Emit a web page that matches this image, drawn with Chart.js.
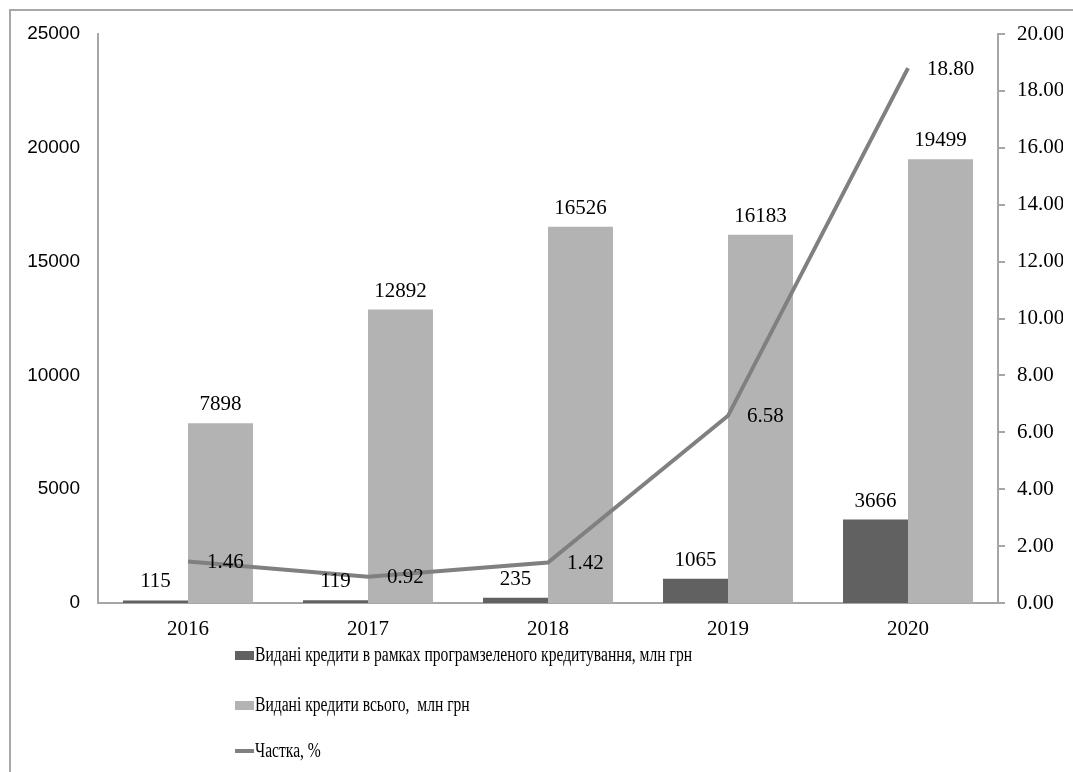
<!DOCTYPE html>
<html>
<head>
<meta charset="utf-8">
<script src="https://cdn.jsdelivr.net/npm/chart.js@4/dist/chart.umd.min.js"></script>
<style>
  html, body { margin: 0; padding: 0; background: #fff; }
  #wrap { position: relative; width: 1073px; height: 772px; overflow: hidden; }
  #frame { position: absolute; left: 9px; top: 9px; width: 1100px; height: 800px;
           border-left: 2px solid #a8a8a8; border-top: 2px solid #a8a8a8; }
  canvas { position: absolute; left: 0; top: 0; }
  #legend { position: absolute; left: 235px; top: 640px; font-family: "Liberation Serif", serif;
            font-size: 20px; color: #000; }
  .item { position: absolute; left: 0; white-space: pre; height: 24px; }
  .item .sw { position: absolute; left: 0; }
  .item .tx { position: absolute; left: 20px; top: 0; transform-origin: 0 50%; transform: scaleX(0.78); }
</style>
</head>
<body>
<div id="wrap">
  <div id="frame"></div>
  <canvas id="chart" width="1073" height="772"></canvas>
  <div id="legend"></div>
</div>
<script>
const years = ["2016", "2017", "2018", "2019", "2020"];
const greenLoans = [115, 119, 235, 1065, 3666];
const totalLoans = [7898, 12892, 16526, 16183, 19499];
const sharePct = [1.46, 0.92, 1.42, 6.58, 18.80];
const leftTicks = [0, 5000, 10000, 15000, 20000, 25000];
const rightTicks = [0, 2, 4, 6, 8, 10, 12, 14, 16, 18, 20];

const seriesNames = [
  "Видані кредити в рамках програмзеленого кредитування, млн грн",
  "Видані кредити всього,  млн грн",
  "Частка, %"
];

const darkGrey = "#616161";
const lightGrey = "#b3b3b3";
const lineGrey = "#808080";
const axisGrey = "#a6a6a6";
const serif = "'Liberation Serif', 'Times New Roman', serif";

// value labels over bars and next to the line points
const valueLabels = {
  id: "valueLabels",
  afterDatasetsDraw(chart) {
    const ctx = chart.ctx;
    ctx.save();
    ctx.font = "21px " + serif;
    ctx.fillStyle = "#000";
    chart.data.datasets.forEach((ds, i) => {
      const meta = chart.getDatasetMeta(i);
      meta.data.forEach((el, j) => {
        const v = ds.data[j];
        if (ds.type === "line") {
          ctx.textAlign = "left";
          ctx.textBaseline = "middle";
          ctx.fillText(v.toFixed(2), el.x + 19, el.y + 1);
        } else {
          ctx.textAlign = "center";
          ctx.textBaseline = "bottom";
          ctx.fillText(String(v), el.x, el.y - 8);
        }
      });
    });
    ctx.restore();
  }
};

const chart = new Chart(document.getElementById("chart"), {
  data: {
    labels: years,
    datasets: [
      {
        type: "line",
        label: seriesNames[2],
        data: sharePct,
        yAxisID: "y1",
        borderColor: lineGrey,
        borderWidth: 4,
        pointRadius: 0,
        tension: 0,
        order: -1
      },
      {
        type: "bar",
        label: seriesNames[0],
        data: greenLoans,
        yAxisID: "y",
        backgroundColor: darkGrey,
        categoryPercentage: 0.722,
        barPercentage: 1
      },
      {
        type: "bar",
        label: seriesNames[1],
        data: totalLoans,
        yAxisID: "y",
        backgroundColor: lightGrey,
        categoryPercentage: 0.722,
        barPercentage: 1
      }
    ]
  },
  options: {
    responsive: false,
    animation: false,
    layout: { padding: { left: 10, right: 10, top: 34, bottom: 100 } },
    plugins: { legend: { display: false }, tooltip: { enabled: false } },
    scales: {
      x: {
        grid: { display: false, drawTicks: false },
        border: { display: true, color: axisGrey, width: 2 },
        ticks: { color: "#000", font: { family: serif, size: 21 }, padding: 14 },
        afterFit: s => { s.height = 69; }
      },
      y: {
        position: "left",
        min: 0,
        max: 25000,
        afterBuildTicks: s => { s.ticks = leftTicks.map(v => ({ value: v })); },
        grid: { display: false, drawTicks: false },
        border: { display: true, color: axisGrey, width: 2 },
        ticks: { color: "#000", font: { family: "'Liberation Sans', Arial, sans-serif", size: 19 }, padding: 18,
                 callback: v => String(v) },
        afterFit: s => { s.width = 88; }
      },
      y1: {
        position: "right",
        min: 0,
        max: 20,
        afterBuildTicks: s => { s.ticks = rightTicks.map(v => ({ value: v })); },
        grid: { display: true, drawOnChartArea: false, drawTicks: true, tickLength: 7, color: axisGrey, lineWidth: 2 },
        border: { display: true, color: axisGrey, width: 2 },
        ticks: { color: "#000", font: { family: serif, size: 21 }, padding: 12, callback: v => Number(v).toFixed(2) },
        afterFit: s => { s.width = 65; }
      }
    }
  },
  plugins: [valueLabels]
});

// legend, stacked vertically like in the source
const legend = document.getElementById("legend");
const swatches = [
  { color: darkGrey, h: 9, top: 8 },
  { color: lightGrey, h: 9, top: 8 },
  { color: lineGrey, h: 4, top: 10 }
];
const legendTops = [3, 53, 99];
seriesNames.forEach((name, i) => {
  const item = document.createElement("div");
  item.className = "item";
  item.style.top = legendTops[i] + "px";
  const sw = document.createElement("span");
  sw.className = "sw";
  sw.style.width = "19px";
  sw.style.height = swatches[i].h + "px";
  sw.style.top = swatches[i].top + "px";
  sw.style.background = swatches[i].color;
  const tx = document.createElement("span");
  tx.className = "tx";
  tx.textContent = name;
  item.appendChild(sw);
  item.appendChild(tx);
  legend.appendChild(item);
});
</script>
</body>
</html>
